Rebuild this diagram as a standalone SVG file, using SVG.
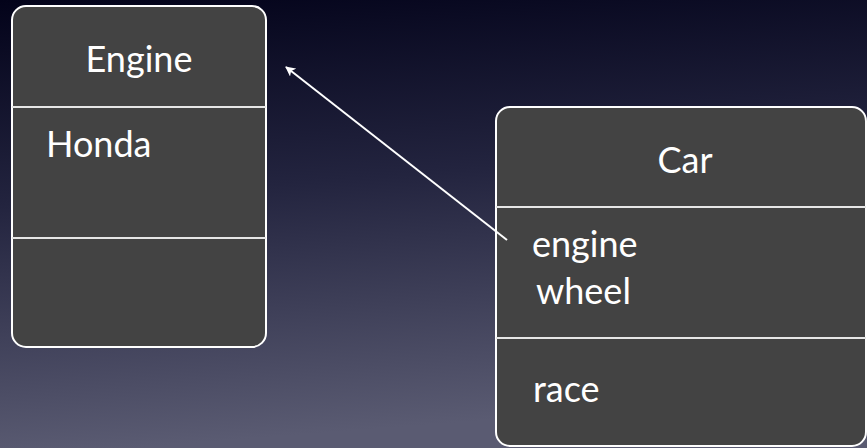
<svg xmlns="http://www.w3.org/2000/svg" width="867" height="448" viewBox="0 0 867 448">
<defs>
<linearGradient id="bg" x1="0" y1="0" x2="0.15" y2="1">
<stop offset="0" stop-color="#03031a"/>
<stop offset="0.45" stop-color="#23243f"/>
<stop offset="1" stop-color="#5a5b72"/>
</linearGradient>
<marker id="arr" viewBox="0 0 10 10" refX="9" refY="5" markerWidth="10" markerHeight="10" markerUnits="userSpaceOnUse" orient="auto">
<path d="M0,0 L10,5 L0,10 L2.5,5 Z" fill="#ffffff"/>
</marker>
</defs>
<style>
.box{fill:#434343;stroke:#ffffff;stroke-width:2}
.div{stroke:#e6e6e6;stroke-width:2}
.t{font-family:"Lato","Open Sans",sans-serif;fill:#ffffff;font-size:36px}
.conn{stroke:#ffffff;stroke-width:2;fill:none}
</style>
<rect width="867" height="448" fill="url(#bg)"/>
<g id="engine">
<rect class="box" x="12" y="6" width="254" height="341" rx="14"/>
<line class="div" x1="12" y1="107" x2="266" y2="107"/>
<line class="div" x1="12" y1="238" x2="266" y2="238"/>
<text class="t" x="139" y="72" text-anchor="middle">Engine</text>
<text class="t" x="46" y="157">Honda</text>
</g>
<g id="car">
<rect class="box" x="496" y="107" width="370" height="339" rx="14"/>
<line class="div" x1="496" y1="207" x2="866" y2="207"/>
<line class="div" x1="496" y1="338" x2="866" y2="338"/>
<text class="t" x="685" y="173" text-anchor="middle">Car</text>
<text class="t" x="532" y="257">engine</text>
<text class="t" x="536" y="304">wheel</text>
<text class="t" x="533" y="402">race</text>
</g>
<g id="connectors">
<line class="conn" x1="507" y1="240" x2="286" y2="67" marker-end="url(#arr)"/>
</g>
</svg>
